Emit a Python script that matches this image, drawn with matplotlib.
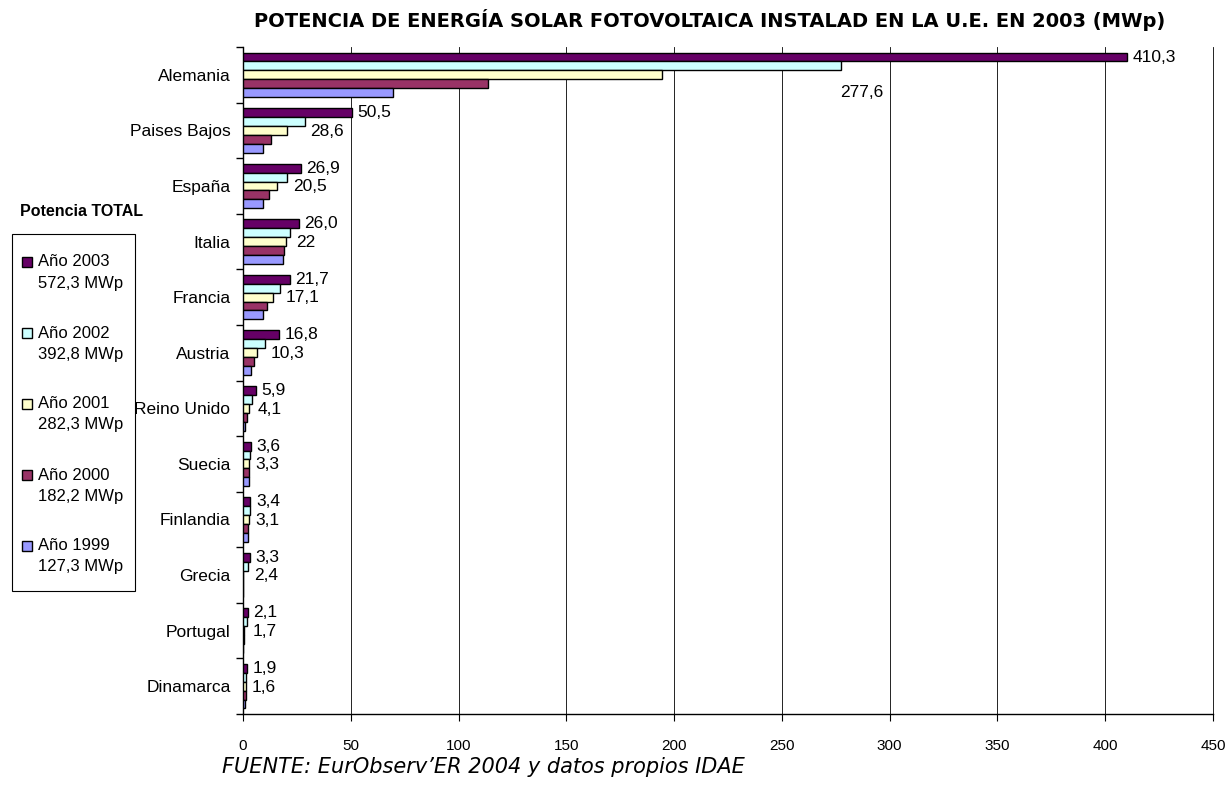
import matplotlib
matplotlib.use("Agg")
import matplotlib.pyplot as plt
import numpy as np
from matplotlib.patches import Rectangle

plt.rcParams['font.family'] = ['Liberation Sans', 'DejaVu Sans']

paises = ["Alemania", "Paises Bajos", "España", "Italia", "Francia", "Austria",
          "Reino Unido", "Suecia", "Finlandia", "Grecia", "Portugal", "Dinamarca"]
v2003 = [410.3, 50.5, 26.9, 26.0, 21.7, 16.8, 5.9, 3.6, 3.4, 3.3, 2.1, 1.9]
v2002 = [277.6, 28.6, 20.5, 22.0, 17.1, 10.3, 4.1, 3.3, 3.1, 2.4, 1.7, 1.6]
v2001 = [194.6, 20.5, 15.7, 20.0, 13.9, 6.6, 2.7, 3.0, 2.7, 0.0, 0.4, 1.5]
v2000 = [113.8, 12.8, 12.1, 19.0, 11.3, 4.9, 1.9, 2.8, 2.5, 0.0, 0.3, 1.5]
v1999 = [69.5, 9.2, 9.1, 18.5, 9.1, 3.7, 1.1, 2.6, 2.2, 0.0, 0.2, 1.1]
lbl2003 = ["410,3", "50,5", "26,9", "26,0", "21,7", "16,8", "5,9", "3,6", "3,4", "3,3", "2,1", "1,9"]
lbl2002 = ["277,6", "28,6", "20,5", "22", "17,1", "10,3", "4,1", "3,3", "3,1", "2,4", "1,7", "1,6"]
series_years = ["Año 2003", "Año 2002", "Año 2001", "Año 2000", "Año 1999"]
series_totals = ["572,3 MWp", "392,8 MWp", "282,3 MWp", "182,2 MWp", "127,3 MWp"]
colors = ["#660066", "#CCFFFF", "#FFFFCC", "#993366", "#9999FF"]

W, H = 1231, 787
fig = plt.figure(figsize=(W / 100, H / 100), dpi=100)
ax = fig.add_axes([243 / W, 1 - 714 / H, 970 / W, 667 / H])

n = len(paises)
y = np.arange(n)
h = 0.16
series = [v2003, v2002, v2001, v2000, v1999]
for i, (vals, c) in enumerate(zip(series, colors)):
    ax.barh(y + (i - 2) * h, vals, height=h, color=c, edgecolor="black",
            linewidth=1.0, zorder=3)

for j in range(n):
    ax.annotate(lbl2003[j], (v2003[j], y[j] - 2 * h), xytext=(4, 0),
                textcoords="offset points", va="center", ha="left", fontsize=12.5)
    if j == 0:
        ax.annotate(lbl2002[j], (v2002[j], y[j] - h), xytext=(-1, -19),
                    textcoords="offset points", va="center", ha="left", fontsize=12.5)
    else:
        ax.annotate(lbl2002[j], (v2002[j], y[j] - h), xytext=(4, -7),
                    textcoords="offset points", va="center", ha="left", fontsize=12.5)

ax.set_xlim(0, 450)
ax.set_ylim(n - 0.5, -0.5)
ax.set_xticks(np.arange(0, 451, 50))
ax.set_yticks(y)
ax.set_yticklabels(paises, fontsize=12.5)
ax.set_yticks(np.arange(-0.5, n, 1), minor=True)
ax.tick_params(axis="y", which="major", length=0, pad=9)
ax.tick_params(axis="y", which="minor", length=5, width=1, direction="out")
ax.tick_params(axis="x", length=5, direction="out", labelsize=11, pad=13)
ax.grid(axis="x", color="#000000", linewidth=0.6, zorder=0)
ax.spines["top"].set_visible(False)
ax.spines["right"].set_linewidth(0.6)
ax.spines["left"].set_linewidth(1.0)
ax.spines["bottom"].set_linewidth(1.0)

fig.text(710 / W, 1 - 20 / H,
         "POTENCIA DE ENERGÍA SOLAR FOTOVOLTAICA INSTALAD EN LA U.E. EN 2003 (MWp)",
         ha="center", va="center", fontsize=14, fontweight="bold", family="DejaVu Sans")
fig.text(222 / W, 1 - 767 / H, "FUENTE: EurObserv’ER 2004 y datos propios IDAE",
         ha="left", va="center", fontsize=15, style="italic", family="DejaVu Sans")
fig.text(20 / W, 1 - 212 / H, "Potencia TOTAL", ha="left", va="center",
         fontsize=11.5, fontweight="bold")

# legend (manual layout so the key square aligns with the first line)
fig.add_artist(Rectangle((12 / W, 1 - 591 / H), 123 / W, 357 / H, transform=fig.transFigure,
                         facecolor="white", edgecolor="black", linewidth=0.8))
for k, (yr, tot, c) in enumerate(zip(series_years, series_totals, colors)):
    yc = 262 + 71 * k
    fig.add_artist(Rectangle((22 / W, 1 - (yc + 5) / H), 10 / W, 10 / H,
                             transform=fig.transFigure, facecolor=c,
                             edgecolor="black", linewidth=1.0))
    fig.text(38 / W, 1 - yc / H, yr, ha="left", va="center", fontsize=12)
    fig.text(38 / W, 1 - (yc + 21) / H, tot, ha="left", va="center", fontsize=12)

fig.savefig("out.png", dpi=100, facecolor="white")
